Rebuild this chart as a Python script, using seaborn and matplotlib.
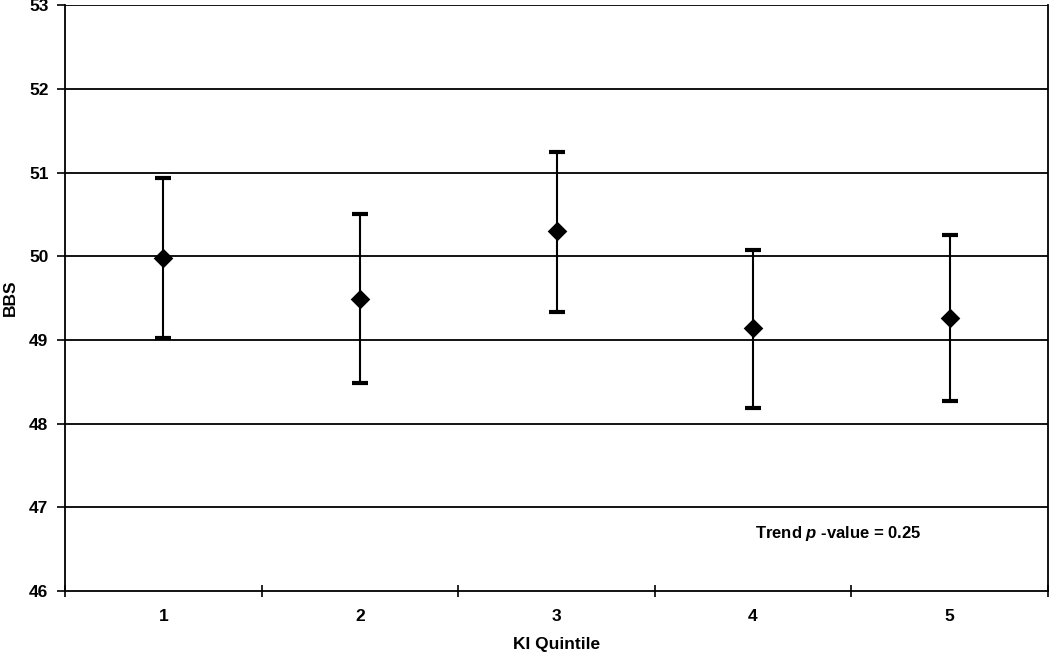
import numpy as np
import pandas as pd
import matplotlib
matplotlib.use('Agg')
import matplotlib.pyplot as plt
import seaborn as sns

# data
quintiles = ['1', '2', '3', '4', '5']
bbs_mean = [49.98, 49.49, 50.30, 49.14, 49.26]
ci_low = [49.02, 48.49, 49.34, 48.19, 48.27]
ci_high = [50.93, 50.50, 51.25, 50.08, 50.25]
trend_label = r'Trend $\mathbf{\mathit{p}}$ -value = 0.25'

df = pd.DataFrame({'quintile': quintiles, 'bbs': bbs_mean,
                   'lo': ci_low, 'hi': ci_high})
df['pos'] = np.arange(len(df))

sns.set_theme(style='white')
plt.rcParams['font.family'] = ['Liberation Sans', 'DejaVu Sans']
plt.rcParams['font.weight'] = 'bold'
plt.rcParams['text.color'] = 'black'
plt.rcParams['axes.labelcolor'] = 'black'
plt.rcParams['xtick.color'] = 'black'
plt.rcParams['ytick.color'] = 'black'
plt.rcParams['mathtext.fontset'] = 'custom'
plt.rcParams['mathtext.it'] = 'Liberation Sans:italic:bold'
plt.rcParams['mathtext.bf'] = 'Liberation Sans:italic:bold'
plt.rcParams['mathtext.rm'] = 'Liberation Sans:bold'

fig = plt.figure(figsize=(10.5, 6.56), dpi=100)
ax = fig.add_axes([0.062, 0.099, 0.936, 0.893])

# horizontal grid
for y in range(47, 54):
    ax.axhline(y, color='black', lw=1.3, zorder=0)

ax.errorbar(df['pos'], df['bbs'],
            yerr=[df['bbs'] - df['lo'], df['hi'] - df['bbs']],
            fmt='none', ecolor='black', elinewidth=1.5,
            capsize=6, capthick=3, zorder=2)
sns.scatterplot(data=df, x='pos', y='bbs', marker='D', s=100,
                color='black', edgecolor='black', linewidth=0, ax=ax, zorder=3)

ax.set_xlim(-0.5, 4.5)
ax.set_ylim(46, 53)
ax.set_yticks(range(46, 54))
ax.set_yticklabels([str(v) for v in range(46, 54)], fontsize=12.5, fontweight='bold')
ax.set_xticks(df['pos'])
ax.set_xticklabels(quintiles, fontsize=12.5, fontweight='bold')
ax.set_xticks(np.arange(-0.5, 4.6, 1.0), minor=True)
ax.tick_params(axis='x', which='major', length=0, pad=13)
ax.tick_params(axis='x', which='minor', length=9, width=1.2, direction='inout',
               color='black', bottom=True)
ax.tick_params(axis='y', which='major', length=6, width=1.2, color='black',
               left=True, direction='out', pad=6)

for side in ['left', 'bottom', 'right', 'top']:
    ax.spines[side].set_color('black')
    ax.spines[side].set_linewidth(1.3)
ax.spines['top'].set_visible(False)

ax.set_xlabel('KI Quintile', fontsize=12.5, fontweight='bold', labelpad=9)
ax.set_ylabel('BBS', fontsize=12.5, fontweight='bold', labelpad=8)

ax.text(3.01, 46.69, trend_label, fontsize=12, fontweight='bold',
        va='center', ha='left')

fig.savefig('out.png', dpi=100)
